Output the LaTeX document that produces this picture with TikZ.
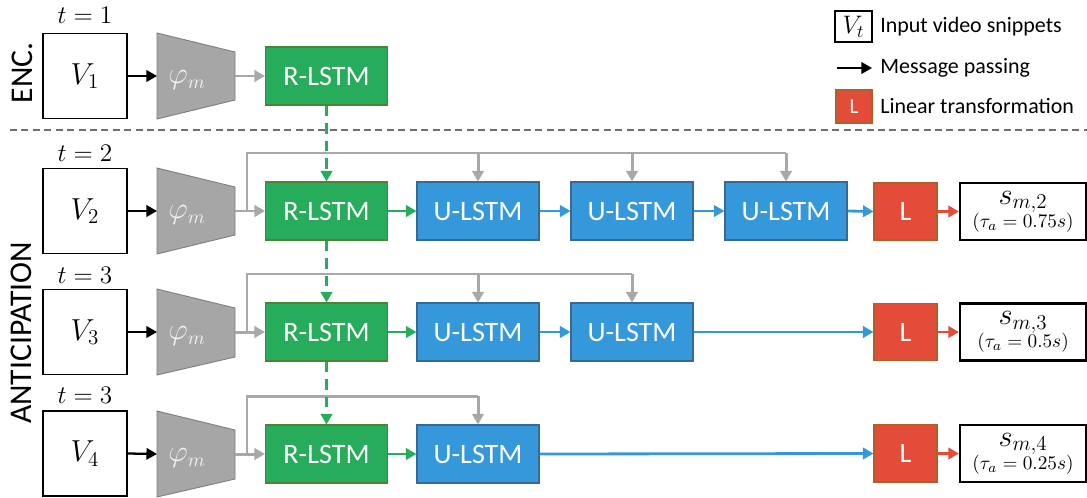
\documentclass[tikz,border=0pt]{standalone}
\usepackage[no-math]{fontspec}
\setmainfont{Carlito}
\usetikzlibrary{arrows.meta}
\definecolor{rgreen}{RGB}{39,172,92}
\definecolor{rgreenb}{RGB}{80,130,50}
\definecolor{ublue}{RGB}{52,152,219}
\definecolor{ublueb}{RGB}{55,105,150}
\definecolor{lred}{RGB}{228,76,58}
\definecolor{lredb}{RGB}{175,95,40}
\definecolor{tgray}{RGB}{166,166,166}
\definecolor{tgrayb}{RGB}{125,125,125}
\definecolor{agray}{RGB}{168,168,168}
\definecolor{dgray}{RGB}{110,110,110}
\tikzset{
  vid/.style={draw=black,line width=0.9pt,fill=white,minimum width=1.68cm,minimum height=1.70cm,inner sep=0pt,font=\fontsize{18}{21}\selectfont},
  rbox/.style={draw=rgreenb,line width=0.6pt,fill=rgreen,text=white,minimum width=2.44cm,minimum height=1.16cm,inner sep=0pt,font=\fontsize{16}{19}\selectfont},
  ubox/.style={draw=ublueb,line width=0.6pt,fill=ublue,text=white,minimum width=2.44cm,minimum height=1.16cm,inner sep=0pt,font=\fontsize{16}{19}\selectfont},
  lbox/.style={draw=lredb,line width=0.6pt,fill=lred,text=white,minimum width=1.26cm,minimum height=1.14cm,inner sep=0pt,font=\fontsize{16}{19}\selectfont},
  sbox/.style={draw=black,line width=1.3pt,fill=white,minimum width=2.52cm,minimum height=1.14cm,inner sep=0pt,align=center},
  tlab/.style={font=\fontsize{15}{18}\selectfont,inner sep=0pt},
  tip/.style={-{Triangle[length=6pt,width=6.5pt]}},
  barrow/.style={tip,draw=black,line width=1.3pt},
  garrow/.style={tip,draw=agray,line width=1.7pt},
  gline/.style={draw=agray,line width=1.7pt},
  grarrow/.style={tip,draw=rgreen,line width=1.6pt},
  gdash/.style={tip,draw=rgreen,line width=1.6pt,dash pattern=on 6pt off 4pt},
  blarrow/.style={tip,draw=ublue,line width=1.6pt},
  rdarrow/.style={tip,draw=lred,line width=1.6pt},
  trap/.style={fill=tgray,draw=tgrayb,line width=0.5pt},
  phi/.style={text=white!90!gray,font=\fontsize{16}{19}\selectfont,inner sep=0pt},
  side/.style={rotate=90,font=\fontsize{18}{21}\selectfont,inner sep=0pt},
  legtxt/.style={anchor=west,font=\fontsize{12.5}{15}\selectfont,inner sep=0pt}
}
\begin{document}
\begin{tikzpicture}[x=0.02cm,y=-0.02cm]
\useasboundingbox (0,0) rectangle (1087,497);

% side labels
\node[side] (enc) at (22,73) {ENC.};
\node[side] (ant) at (21,333) {ANTICIPATION};

% separator
\draw[dgray,line width=0.8pt,dash pattern=on 4pt off 2.5pt] (10,130) -- (1087,130);

% legend
\node[draw=black,line width=0.9pt,minimum width=0.74cm,minimum height=0.62cm,inner sep=0pt,font=\fontsize{14}{16}\selectfont] (legV) at (853.5,26.5) {$V_t$};
\node[legtxt] (legVt) at (880,27) {Input video snippets};
\coordinate (legA1) at (837,68);
\coordinate (legA2) at (872,68);
\draw[barrow] (legA1) -- (legA2);
\node[legtxt] (legAt) at (880,68) {Message passing};
\node[lbox,minimum width=0.72cm,minimum height=0.66cm,font=\fontsize{12}{14}\selectfont] (legL) at (854,106.5) {L};
\node[legtxt] (legLt) at (880,106) {Linear transformation};

% ---------- rows ----------
% row 1
\node[tlab] (t1) at (85,15) {$t=1$};
\node[vid] (V1) at (85,76) {$V_1$};
\draw[trap] (157,33) -- (235,52) -- (235,100) -- (157,119) -- cycle;
\node[phi] (P1) at (187,80) {$\varphi_m$};
\coordinate (P1in) at (157,76);
\coordinate (P1out) at (235,76);
\node[rbox] (R1) at (326.5,76) {R-LSTM};
\draw[barrow] (V1.east) -- (P1in);
\draw[garrow] (P1out) -- (R1.west);

% row 2
\node[tlab] (t2) at (85,153) {$t=2$};
\node[vid] (V2) at (85,211) {$V_2$};
\draw[trap] (157,168) -- (235,187) -- (235,235) -- (157,254) -- cycle;
\node[phi] (P2) at (187,215) {$\varphi_m$};
\coordinate (P2in) at (157,211);
\coordinate (P2out) at (235,211);
\coordinate (B2) at (247,211);
\node[rbox] (R2) at (326.5,211) {R-LSTM};
\node[ubox] (U21) at (478,211) {U-LSTM};
\node[ubox] (U22) at (632,211) {U-LSTM};
\node[ubox] (U23) at (786,211) {U-LSTM};
\node[lbox] (L2) at (905.5,211.5) {L};
\node[sbox] (S2) at (1023,211.5) {{\fontsize{16.5}{14}\selectfont$s_{m,2}$}\\[-1pt]{\fontsize{11}{12}\selectfont$(\tau_a=0.75s)$}};
\coordinate (T2) at (786,153);
\draw[barrow] (V2.east) -- (P2in);
\draw[garrow] (P2out) -- (R2.west);
\draw[gline] (B2) |- (T2);
\draw[garrow] (U21.north |- T2) -- (U21.north);
\draw[garrow] (U22.north |- T2) -- (U22.north);
\draw[garrow] (T2) -- (U23.north);
\draw[grarrow] (R2.east) -- (U21.west);
\draw[blarrow] (U21.east) -- (U22.west);
\draw[blarrow] (U22.east) -- (U23.west);
\draw[blarrow] (U23.east) -- (L2.west);
\draw[rdarrow] (L2.east) -- (S2.west);

% row 3
\node[tlab] (t3) at (85,275) {$t=3$};
\node[vid] (V3) at (85,332) {$V_3$};
\draw[trap] (157,289) -- (235,308) -- (235,357) -- (157,375) -- cycle;
\node[phi] (P3) at (187,336) {$\varphi_m$};
\coordinate (P3in) at (157,332);
\coordinate (P3out) at (235,332);
\coordinate (B3) at (247,332);
\node[rbox] (R3) at (326.5,332) {R-LSTM};
\node[ubox] (U31) at (478,332) {U-LSTM};
\node[ubox] (U32) at (632,332) {U-LSTM};
\node[lbox] (L3) at (905.5,332) {L};
\node[sbox] (S3) at (1023,332) {{\fontsize{16.5}{14}\selectfont$s_{m,3}$}\\[-1pt]{\fontsize{11}{12}\selectfont$(\tau_a=0.5s)$}};
\coordinate (T3) at (632,274);
\draw[barrow] (V3.east) -- (P3in);
\draw[garrow] (P3out) -- (R3.west);
\draw[gline] (B3) |- (T3);
\draw[garrow] (U31.north |- T3) -- (U31.north);
\draw[garrow] (T3) -- (U32.north);
\draw[grarrow] (R3.east) -- (U31.west);
\draw[blarrow] (U31.east) -- (U32.west);
\draw[blarrow] (U32.east) -- (L3.west);
\draw[rdarrow] (L3.east) -- (S3.west);

% row 4
\node[tlab] (t4) at (85,395) {$t=3$};
\node[vid] (V4) at (85,453.5) {$V_4$};
\draw[trap] (157,411) -- (235,430) -- (235,479) -- (157,497) -- cycle;
\node[phi] (P4) at (187,458) {$\varphi_m$};
\coordinate (P4in) at (157,454);
\coordinate (P4out) at (235,454);
\coordinate (B4) at (247,454);
\node[rbox] (R4) at (326.5,454) {R-LSTM};
\node[ubox] (U41) at (478,454) {U-LSTM};
\node[lbox] (L4) at (905.5,453.5) {L};
\node[sbox] (S4) at (1023,453.5) {{\fontsize{16.5}{14}\selectfont$s_{m,4}$}\\[-1pt]{\fontsize{11}{12}\selectfont$(\tau_a=0.25s)$}};
\coordinate (T4) at (478,396);
\draw[barrow] (V4.east) -- (P4in);
\draw[garrow] (P4out) -- (R4.west);
\draw[gline] (B4) |- (T4);
\draw[garrow] (T4) -- (U41.north);
\draw[grarrow] (R4.east) -- (U41.west);
\draw[blarrow] (U41.east) -- (L4.west);
\draw[rdarrow] (L4.east) -- (S4.west);

% recurrent dashed connections
\draw[gdash] (R1.south) -- (R2.north);
\draw[gdash] (R2.south) -- (R3.north);
\draw[gdash] (R3.south) -- (R4.north);
\end{tikzpicture}
\end{document}
